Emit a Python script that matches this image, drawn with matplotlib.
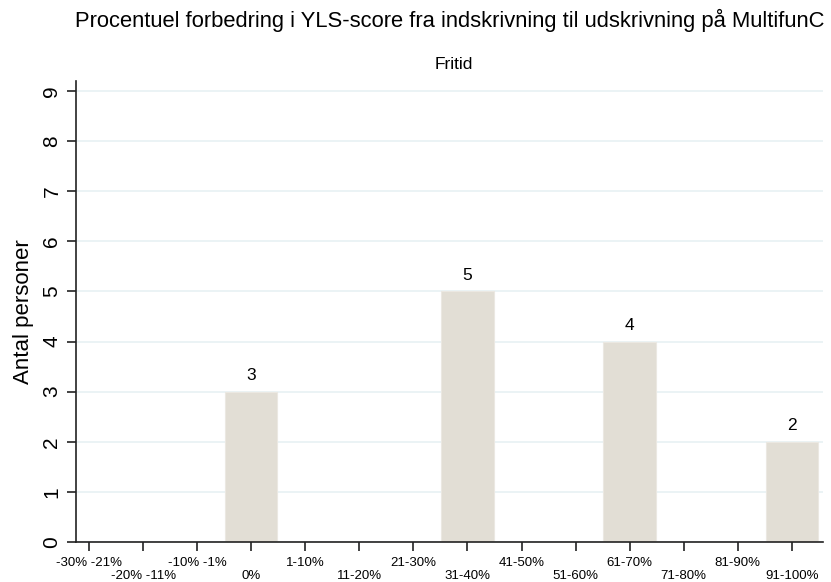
import numpy as np
import matplotlib.pyplot as plt

plt.rcParams['font.family'] = ['Liberation Sans', 'DejaVu Sans']

categories = ['-30% -21%', '-20% -11%', '-10% -1%', '0%', '1-10%', '11-20%', '21-30%',
              '31-40%', '41-50%', '51-60%', '61-70%', '71-80%', '81-90%', '91-100%']
counts = [0, 0, 0, 3, 0, 0, 0, 5, 0, 0, 4, 0, 0, 2]
yticks = list(range(0, 10))

fig = plt.figure(figsize=(8.31, 5.82), dpi=100)
ax = fig.add_axes([0.0915, 0.0687, 0.8985, 0.7923])

x = np.arange(len(categories))
for xi, c in zip(x, counts):
    if c > 0:
        ax.bar(xi, c, width=0.97, color='#e2ded5', edgecolor='#ebe8e2', linewidth=0.8, zorder=2)
        ax.text(xi, c + 0.17, str(c), ha='center', va='bottom', fontsize=12.5)

ax.set_xlim(-0.24, 13.57)
ax.set_ylim(0, 9.2)
ax.set_yticks(yticks)
ax.set_yticklabels([str(v) for v in yticks], rotation=90, va='center', fontsize=15)
ax.yaxis.grid(True, color='#e8f1f3', linewidth=1.2, zorder=0)
ax.set_axisbelow(True)

ax.set_xticks(x)
ax.set_xticklabels([])
for i, lab in enumerate(categories):
    dy = -0.42 if i % 2 == 0 else -0.68
    ax.text(i, dy, lab, ha='center', va='center', fontsize=9.5,
            transform=ax.transData, clip_on=False)

ax.tick_params(axis='both', length=6.5, width=1.2, color='#222222')
ax.tick_params(axis='y', pad=4)
for s in ['top', 'right']:
    ax.spines[s].set_visible(False)
for s in ['left', 'bottom']:
    ax.spines[s].set_linewidth(1.2)
    ax.spines[s].set_color('#222222')

ax.set_ylabel('Antal personer', fontsize=16, labelpad=6)
fig.text(0.541, 0.965, 'Procentuel forbedring i YLS-score fra indskrivning til udskrivning på MultifunC',
         ha='center', va='center', fontsize=15.8)
fig.text(0.546, 0.89, 'Fritid', ha='center', va='center', fontsize=12.5)

fig.savefig('out.png', dpi=100)
